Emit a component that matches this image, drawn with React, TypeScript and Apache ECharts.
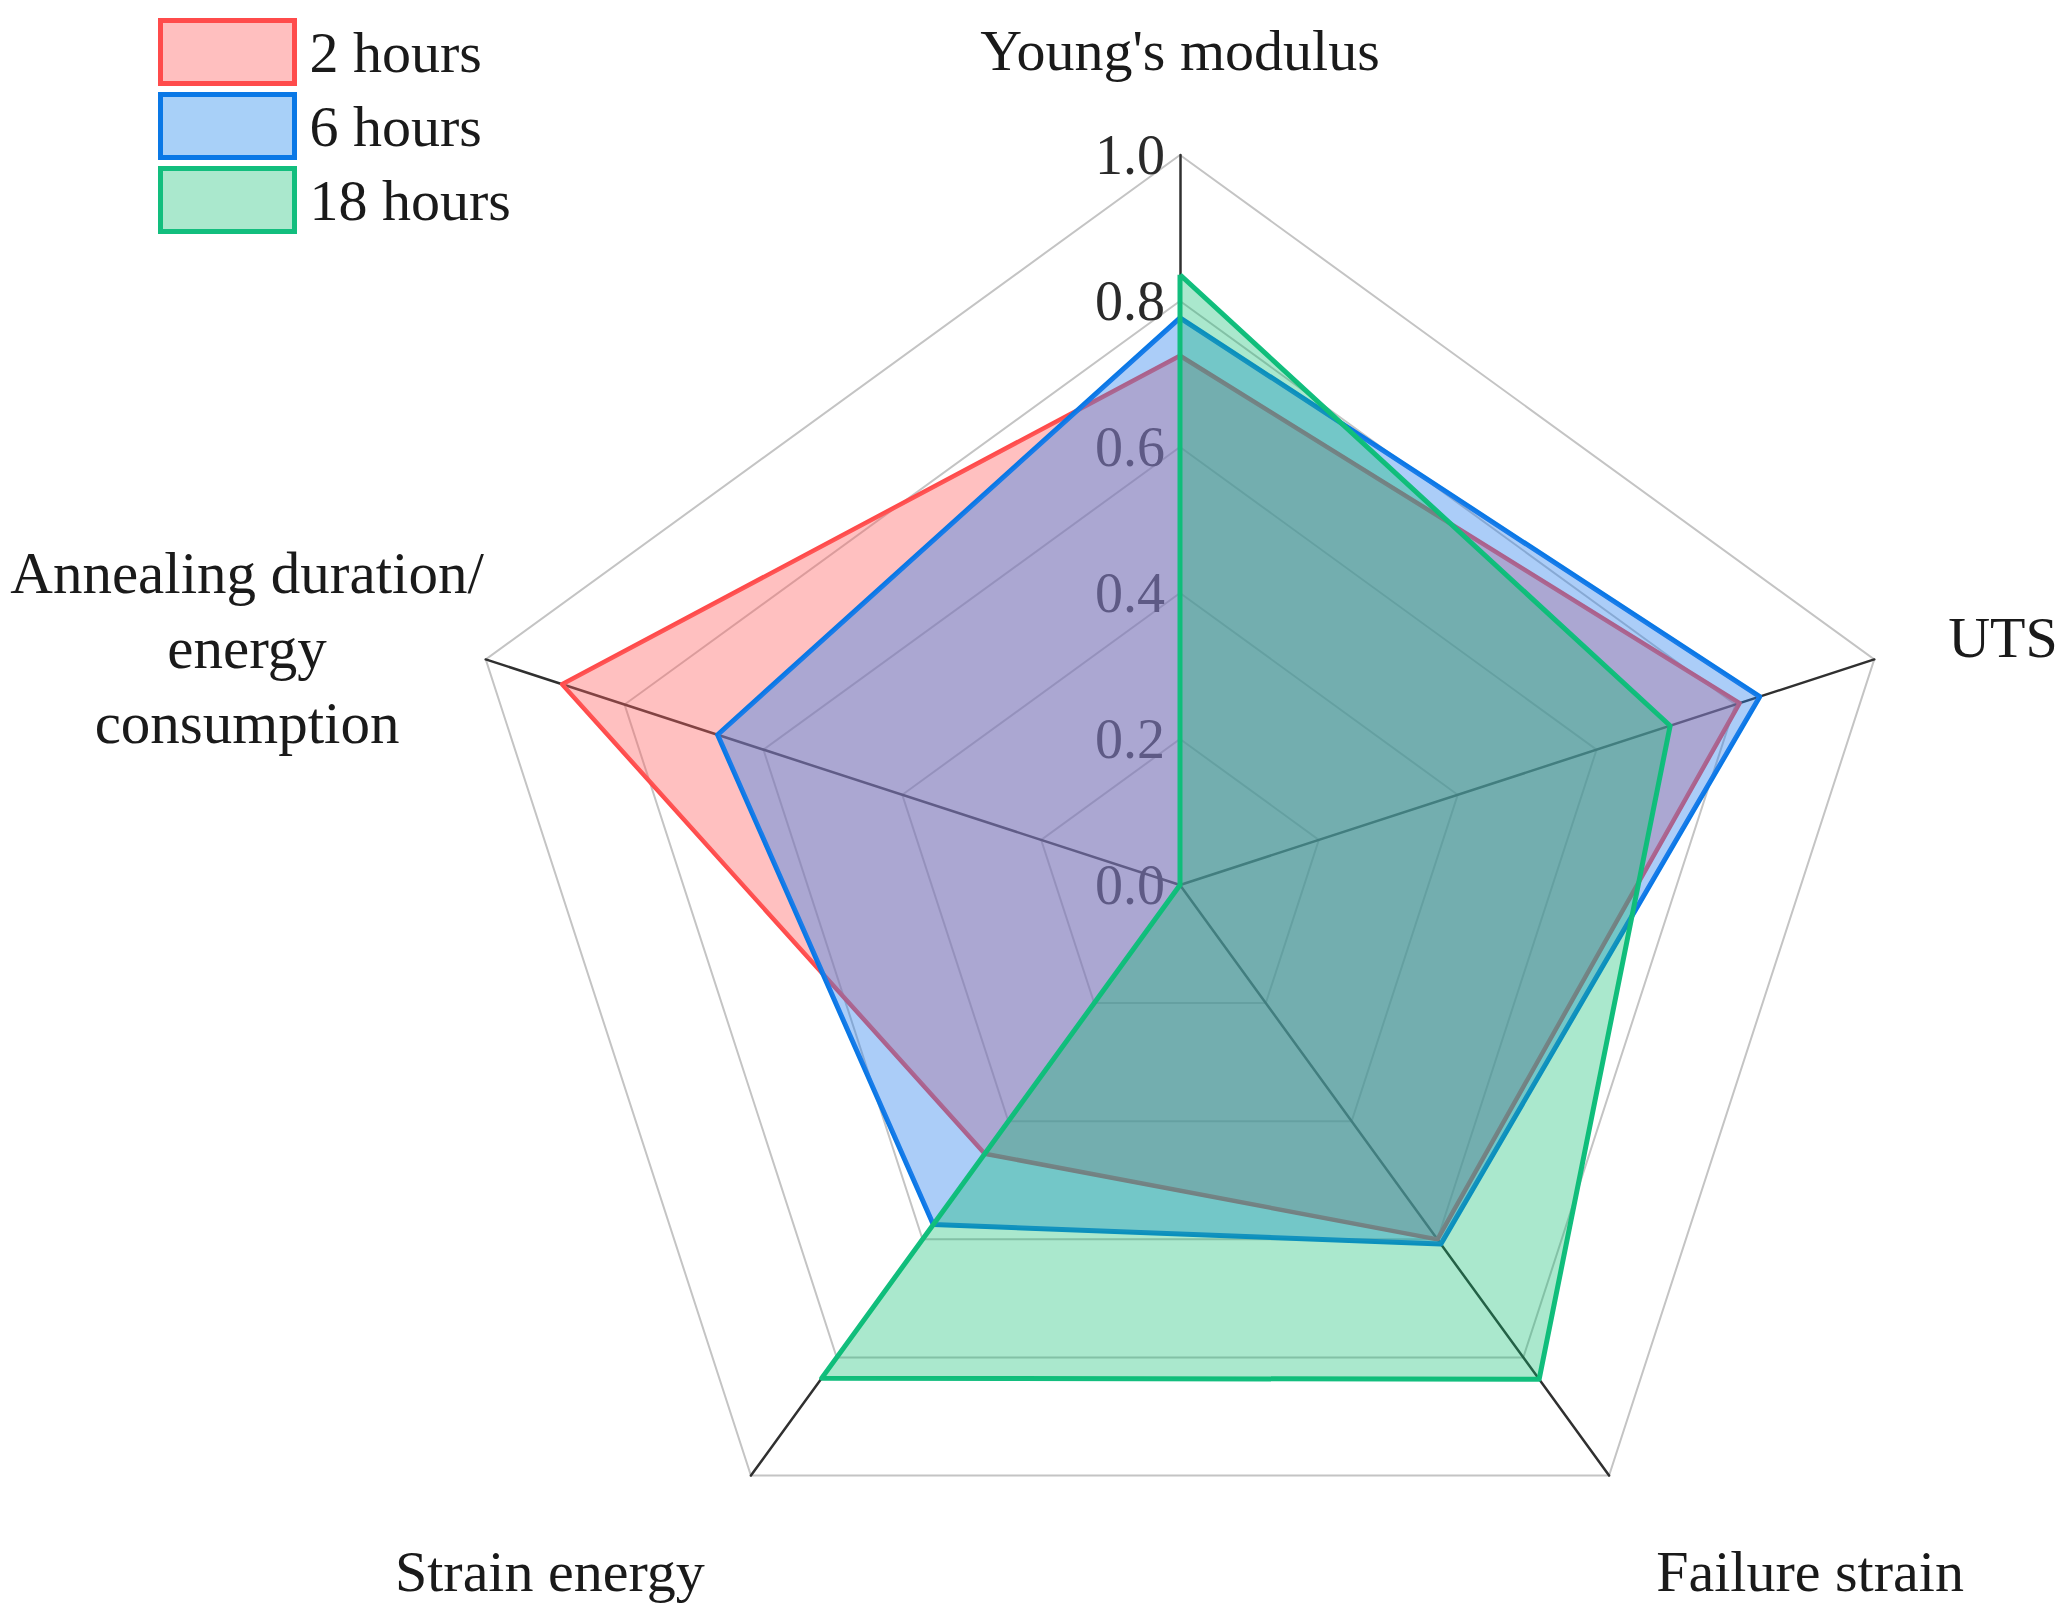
import React, { useEffect, useRef } from "react";
import * as echarts from "echarts";

const indicatorNames = [
  "Young's modulus",
  "Annealing duration/\nenergy\nconsumption",
  "Strain energy",
  "Failure strain",
  "UTS",
];
const seriesNames = ["2 hours", "6 hours", "18 hours"];
// order: Young's modulus, Annealing, Strain energy, Failure strain, UTS
const hours2 = [0.725, 0.89, 0.455, 0.6, 0.806];
const hours6 = [0.777, 0.666, 0.575, 0.608, 0.835];
const hours18 = [0.836, 0, 0.835, 0.837, 0.706];
const tickMin = 0;
const tickMax = 1;
const tickSplit = 5;

const FONT = "'Liberation Serif', 'Times New Roman', serif";
const lineColors = ["#ff4b4b", "#0a78e6", "#12be7e"];
const areaColors = [
  "rgba(255,98,98,0.4)",
  "rgba(45,130,238,0.4)",
  "rgba(12,189,112,0.35)",
];
const legendFills = ["#ffbfbf", "#a8d0f8", "#aae8cd"];
const lineWidths = [4.5, 5, 5];
const richKeys = ["ym", "an", "se", "fs", "ut"];

export default function App() {
  const ref = useRef<HTMLDivElement>(null);
  useEffect(() => {
    if (!ref.current) return;
    const chart = echarts.init(ref.current, undefined, { renderer: "svg" });
    const values = [hours2, hours6, hours18];
    const txt = { fontFamily: FONT, fontSize: 58, color: "#1a1a1a" };
    const option: any = {
      animation: false,
      backgroundColor: "#ffffff",
      legend: {
        orient: "vertical",
        left: 158,
        top: 18,
        padding: 0,
        itemWidth: 134,
        itemHeight: 63,
        itemGap: 6,
        icon: "rect",
        selectedMode: false,
        textStyle: {
          fontFamily: FONT,
          fontSize: 58,
          color: "#1a1a1a",
          padding: [0, 0, 0, 10],
        },
        data: seriesNames.map((n, i) => ({
          name: n,
          icon: "rect",
          itemStyle: {
            color: legendFills[i],
            borderColor: lineColors[i],
            borderWidth: 5,
          },
        })),
      },
      radar: {
        center: [1180, 885],
        radius: 730,
        startAngle: 90,
        shape: "polygon",
        splitNumber: tickSplit,
        nameGap: 2,
        axisName: {
          fontFamily: FONT,
          fontSize: 58,
          color: "#1a1a1a",
          formatter: (name: string) => {
            const idx = indicatorNames.indexOf(name);
            const key = richKeys[idx];
            return name
              .split("\n")
              .map((l) => `{${key}|${l}}`)
              .join("\n");
          },
          rich: {
            ym: { ...txt, padding: [0, 0, 74, 0] },
            an: { ...txt, fontSize: 59, lineHeight: 75, align: "center", padding: [0, 0, 22, 0] },
            se: { ...txt, padding: [188, 45, 0, 0] },
            fs: { ...txt, padding: [188, 0, 0, 46] },
            ut: { ...txt, padding: [0, 0, 42, 72] },
          },
        },
        axisLine: { show: true, lineStyle: { color: "#303030", width: 2.5 } },
        splitLine: { show: true, lineStyle: { color: "#c4c4c4", width: 2 } },
        splitArea: { show: false },
        axisTick: { show: false },
        axisLabel: { show: false },
        indicator: indicatorNames.map((n, i) => {
          const ind: any = { name: n, min: tickMin, max: tickMax };
          if (i === 0) {
            ind.axisLabel = {
              show: true,
              fontFamily: FONT,
              fontSize: 56,
              color: "#2a2a2a",
              margin: 15,
              formatter: (v: number) => v.toFixed(1),
            };
          }
          return ind;
        }),
      },
      series: [
        {
          type: "radar",
          symbol: "none",
          data: values.map((v, i) => ({
            name: seriesNames[i],
            value: v,
            lineStyle: { color: lineColors[i], width: lineWidths[i] },
            itemStyle: { color: lineColors[i] },
            areaStyle: { color: areaColors[i], opacity: 1 },
          })),
        },
      ],
    };
    chart.setOption(option);
    return () => chart.dispose();
  }, []);
  return (
    <div
      ref={ref}
      style={{
        position: "absolute",
        left: 0,
        top: 0,
        width: 2072,
        height: 1617,
        background: "#fff",
      }}
    />
  );
}
